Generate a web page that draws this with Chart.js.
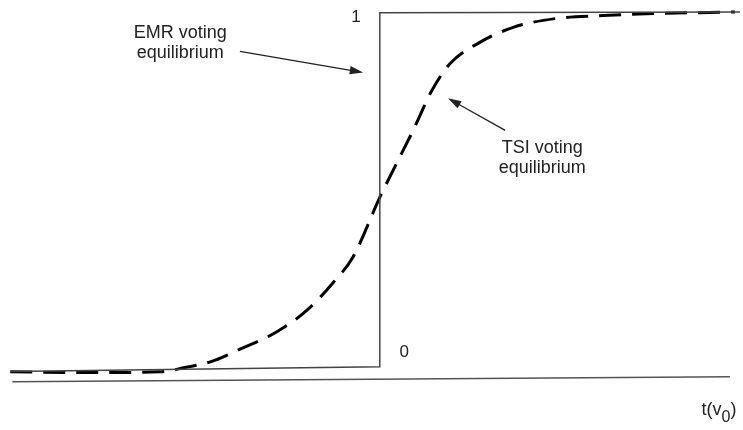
<!DOCTYPE html>
<html>
<head>
<meta charset="utf-8">
<script src="https://cdn.jsdelivr.net/npm/chart.js@4"></script>
<style>
  body { margin: 0; background: #fff; }
  #wrap { width: 743px; height: 430px; position: relative; }
</style>
</head>
<body>
<div id="wrap"><canvas id="chart"></canvas></div>
<script>
// EMR step curve
let stepX = [-5.1, 0, 0, 4.97];
let stepY = [-0.005, 0.008, 0.998, 1.0];

// TSI smooth curve
let tsiX = [-5.1, -3.86, -3.03, -2.69, -2.34, -1.89, -1.42, -1.0, -0.645, -0.37, 0.003, 0.459, 0.72, 0.97, 1.38, 1.84, 2.44, 3.08, 3.77, 4.69, 4.9];
let tsiY = [-0.006, -0.008, -0.006, 0.006, 0.022, 0.061, 0.106, 0.167, 0.243, 0.315, 0.483, 0.669, 0.781, 0.856, 0.915, 0.957, 0.982, 0.99, 0.996, 0.999, 1.0];

// horizontal axis
let axisX = [-5.07, 4.83];
let axisY = [-0.0335, -0.0195];

// tick labels
let tickLabels = ["0", "1"];

function toPoints(xs, ys) {
  return xs.map((x, i) => ({ x: x, y: ys[i] }));
}

// labels and arrows in data coordinates
let notes = [
  { lines: ["EMR voting", "equilibrium"], x: -2.755, y: 0.926 },
  { lines: ["TSI voting", "equilibrium"], x: 2.24, y: 0.605 }
];
let arrows = [
  { from: [-1.93, 0.89], to: [-0.23, 0.831] },
  { from: [1.73, 0.669], to: [0.94, 0.759] }
];

const annotate = {
  id: "annotate",
  afterDraw(c) {
    let ctx = c.ctx;
    let xs = c.scales.x, ys = c.scales.y;
    ctx.save();
    ctx.fillStyle = "#222";
    ctx.strokeStyle = "#222";
    ctx.textAlign = "center";
    ctx.textBaseline = "alphabetic";
    ctx.font = "18px 'Liberation Sans', Arial, sans-serif";
    notes.forEach(n => {
      let px = xs.getPixelForValue(n.x), py = ys.getPixelForValue(n.y);
      n.lines.forEach((t, i) => ctx.fillText(t, px, py + i * 20));
    });

    // arrows
    ctx.lineWidth = 1.3;
    arrows.forEach(a => {
      let x1 = xs.getPixelForValue(a.from[0]), y1 = ys.getPixelForValue(a.from[1]);
      let x2 = xs.getPixelForValue(a.to[0]), y2 = ys.getPixelForValue(a.to[1]);
      let ang = Math.atan2(y2 - y1, x2 - x1);
      let len = 14;
      ctx.beginPath();
      ctx.moveTo(x1, y1);
      ctx.lineTo(x2 - Math.cos(ang) * len * 0.8, y2 - Math.sin(ang) * len * 0.8);
      ctx.stroke();
      ctx.beginPath();
      ctx.moveTo(x2, y2);
      ctx.lineTo(x2 - len * Math.cos(ang - 0.3), y2 - len * Math.sin(ang - 0.3));
      ctx.lineTo(x2 - len * Math.cos(ang + 0.3), y2 - len * Math.sin(ang + 0.3));
      ctx.closePath();
      ctx.fill();
    });

    // 0 / 1 labels
    ctx.font = "17px 'Liberation Sans', Arial, sans-serif";
    ctx.fillText(tickLabels[0], xs.getPixelForValue(0.338), ys.getPixelForValue(0.036));
    ctx.fillText(tickLabels[1], xs.getPixelForValue(-0.33), ys.getPixelForValue(0.971));

    // t(v0)
    ctx.textAlign = "left";
    let lx = xs.getPixelForValue(4.44), ly = ys.getPixelForValue(-0.1255);
    ctx.font = "18px 'Liberation Sans', Arial, sans-serif";
    ctx.fillText("t(v", lx, ly);
    let w = ctx.measureText("t(v").width;
    ctx.font = "16px 'Liberation Sans', Arial, sans-serif";
    ctx.fillText("0", lx + w, ly + 7);
    let w2 = ctx.measureText("0").width;
    ctx.font = "18px 'Liberation Sans', Arial, sans-serif";
    ctx.fillText(")", lx + w + w2, ly);
    ctx.restore();
  }
};

new Chart(document.getElementById("chart"), {
  type: "line",
  data: {
    datasets: [
      {
        label: "axis",
        data: toPoints(axisX, axisY),
        borderColor: "#555",
        borderWidth: 1.5,
        pointRadius: 0,
        clip: false
      },
      {
        label: "EMR",
        data: toPoints(stepX, stepY),
        borderColor: "#444",
        borderWidth: 1.5,
        pointRadius: 0,
        tension: 0,
        clip: false
      },
      {
        label: "TSI",
        data: toPoints(tsiX, tsiY),
        borderColor: "#000",
        borderWidth: 3,
        borderDash: [22, 11],
        pointRadius: 0,
        cubicInterpolationMode: "monotone",
        clip: false
      }
    ]
  },
  options: {
    responsive: true,
    maintainAspectRatio: false,
    animation: false,
    layout: { padding: { left: 10, right: 3, top: 12, bottom: 46 } },
    plugins: { legend: { display: false }, tooltip: { enabled: false } },
    scales: {
      x: { type: "linear", min: -5.103, max: 4.97, display: false },
      y: { min: -0.04, max: 1.0, display: false }
    }
  },
  plugins: [annotate]
});
</script>
</body>
</html>
